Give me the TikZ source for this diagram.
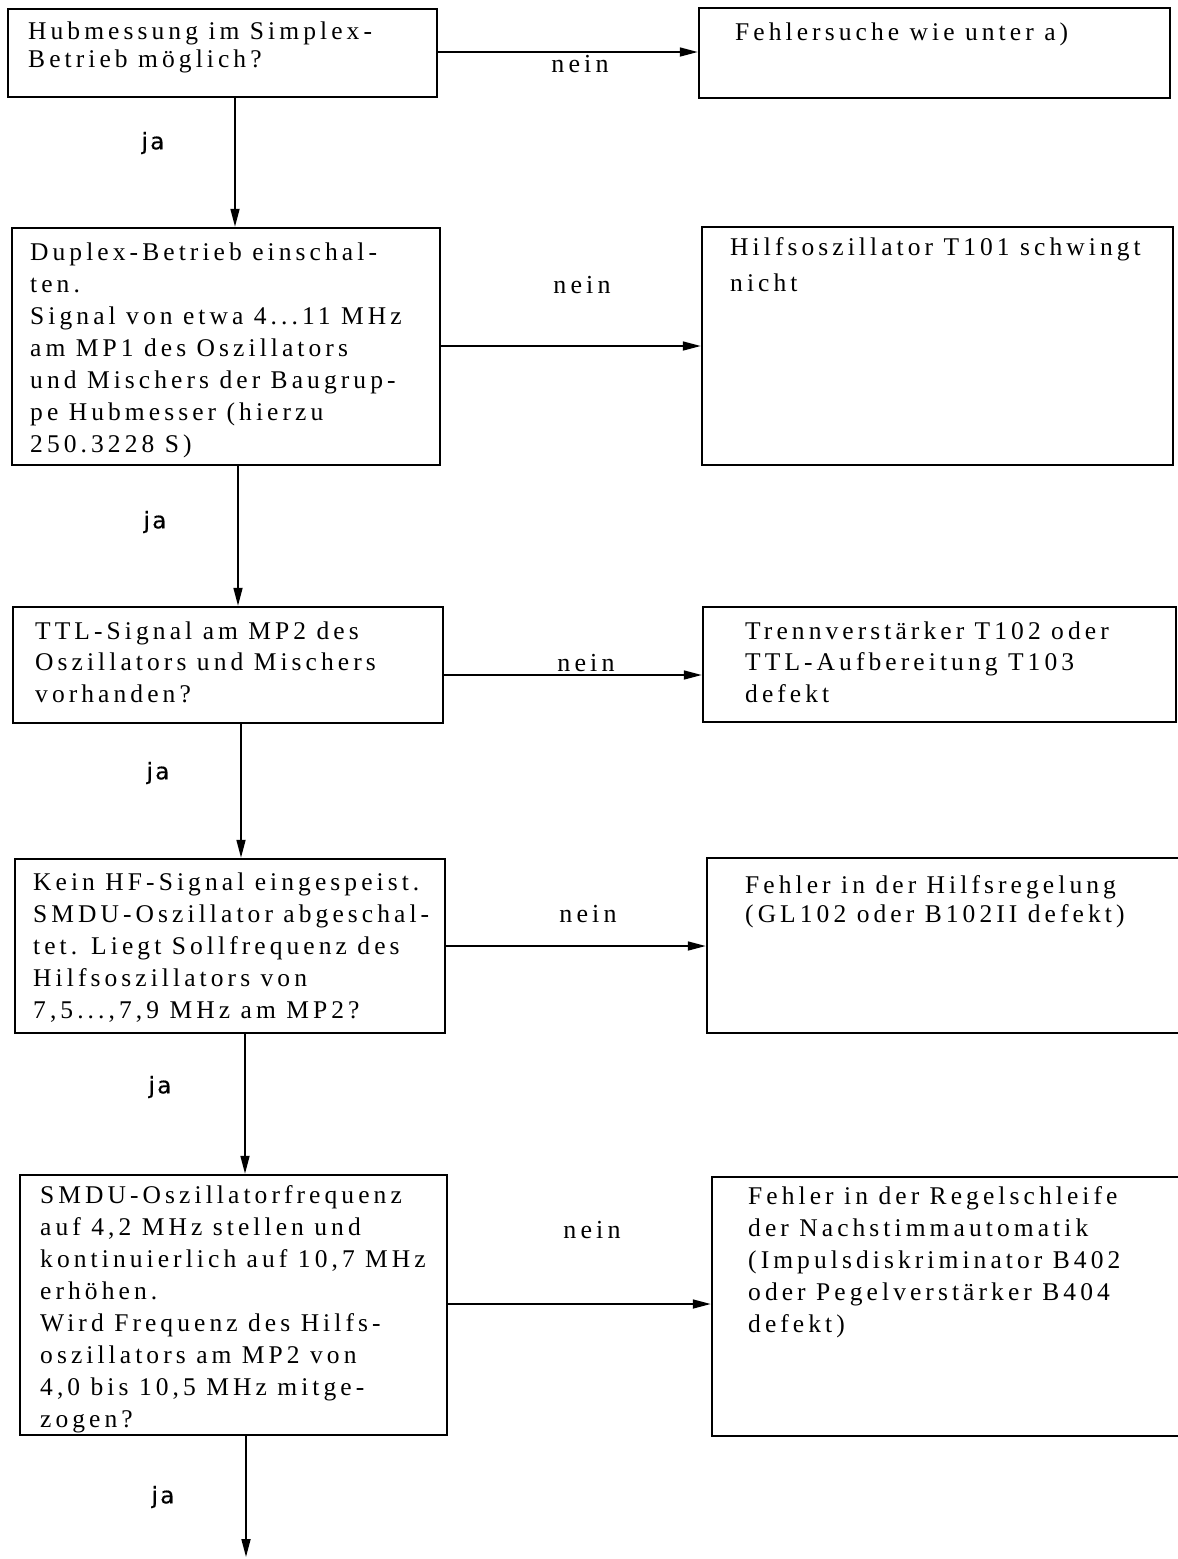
\documentclass[tikz,border=0pt]{standalone}
\usepackage{fontspec}
\setmainfont{Liberation Serif}[LetterSpace=16]
\newfontfamily\labelsans{DejaVu Sans}[LetterSpace=10,FakeBold=0.5]
\usetikzlibrary{arrows.meta,fit}
\newcommand\firststrut{\rule{0pt}{19pt}}
\begin{document}
\begin{tikzpicture}[x=1pt,y=-1pt,
  box/.style={draw, line width=2.5pt, inner sep=0pt},
  txt/.style={anchor=north west, inner sep=0pt, align=left,
    font=\fontsize{25.5}{#1}\selectfont},
  txt/.default=32,
  arr/.style={line width=1.7pt, -{Triangle[length=18pt,width=9pt]}},
  ja/.style={font=\labelsans\fontsize{23}{26}\selectfont},
  nein/.style={font=\fontsize{26}{30}\selectfont}]
\useasboundingbox (0,0) rectangle (1178,1559);

% left column: questions
\node[box, fit={(8,9) (437,97)}] (L1) {};
\node[box, fit={(12,228) (440,465)}] (L2) {};
\node[box, fit={(13,607) (443,723)}] (L3) {};
\node[box, fit={(15,859) (445,1033)}] (L4) {};
\node[box, fit={(20,1175) (447,1435)}] (L5) {};

% right column: diagnoses
\node[box, fit={(699,8) (1170,98)}] (R1) {};
\node[box, fit={(702,227) (1173,465)}] (R2) {};
\node[box, fit={(703,607) (1176,722)}] (R3) {};
\node[box, fit={(707,858) (1186,1033)}] (R4) {};
\node[box, fit={(712,1177) (1186,1436)}] (R5) {};

% texts (first strut puts the first baseline 19pt below the anchor)
\node[txt=28] (tL1) at (28,20) {\firststrut Hubmessung im Simplex-\\Betrieb möglich?};
\node[txt] (tR1) at (735,21) {\firststrut Fehlersuche wie unter a)};
\node[txt] (tL2) at (30,241) {\firststrut Duplex-Betrieb einschal-\\ten.\\Signal von etwa 4...11 MHz\\am MP1 des Oszillators\\und Mischers der Baugrup-\\pe Hubmesser (hierzu\\250.3228 S)};
\node[txt=36] (tR2) at (730,236) {\firststrut Hilfsoszillator T101 schwingt\\nicht};
\node[txt=31.5] (tL3) at (35,620) {\firststrut TTL-Signal am MP2 des\\Oszillators und Mischers\\vorhanden?};
\node[txt=31.5] (tR3) at (745,620) {\firststrut Trennverstärker T102 oder\\TTL-Aufbereitung T103\\defekt};
\node[txt] (tL4) at (33,871) {\firststrut Kein HF-Signal eingespeist.\\SMDU-Oszillator abgeschal-\\tet. Liegt Sollfrequenz des\\Hilfsoszillators von\\7,5...,7,9 MHz am MP2?};
\node[txt=29] (tR4) at (745,874) {\firststrut Fehler in der Hilfsregelung\\(GL102 oder B102II defekt)};
\node[txt] (tL5) at (40,1184) {\firststrut SMDU-Oszillatorfrequenz\\auf 4,2 MHz stellen und\\kontinuierlich auf 10,7 MHz\\erhöhen.\\Wird Frequenz des Hilfs-\\oszillators am MP2 von\\4,0 bis 10,5 MHz mitge-\\zogen?};
\node[txt] (tR5) at (748,1185) {\firststrut Fehler in der Regelschleife\\der Nachstimmautomatik\\(Impulsdiskriminator B402\\oder Pegelverstärker B404\\defekt)};

% connector guides
\coordinate (a1) at (235,0);
\coordinate (a2) at (238,0);
\coordinate (a3) at (241,0);
\coordinate (a4) at (245,0);
\coordinate (a5) at (246,0);
\coordinate (h1) at (0,52);
\coordinate (h2) at (0,346);
\coordinate (h3) at (0,675);
\coordinate (h4) at (0,946);
\coordinate (h5) at (0,1304);
\coordinate (next) at (246,1557);

% "ja" connectors
\draw[arr] (L1.south -| a1) -- (L2.north -| a1);
\draw[arr] (L2.south -| a2) -- (L3.north -| a2);
\draw[arr] (L3.south -| a3) -- (L4.north -| a3);
\draw[arr] (L4.south -| a4) -- (L5.north -| a4);
\draw[arr] (L5.south -| a5) -- (next);

% "nein" connectors
\draw[arr] (L1.east |- h1) -- (R1.west |- h1);
\draw[arr] (L2.east |- h2) -- (R2.west |- h2);
\draw[arr] (L3.east |- h3) -- (R3.west |- h3);
\draw[arr] (L4.east |- h4) -- (R4.west |- h4);
\draw[arr] (L5.east |- h5) -- (R5.west |- h5);

% branch labels
\node[ja] (j1) at (153,143) {ja};
\node[ja] (j2) at (155,522) {ja};
\node[ja] (j3) at (158,773) {ja};
\node[ja] (j4) at (160,1087) {ja};
\node[ja] (j5) at (163,1497) {ja};
\node[nein] (n1) at (580,64) {nein};
\node[nein] (n2) at (582,285) {nein};
\node[nein] (n3) at (586,663) {nein};
\node[nein] (n4) at (588,914) {nein};
\node[nein] (n5) at (592,1230) {nein};
\end{tikzpicture}
\end{document}
